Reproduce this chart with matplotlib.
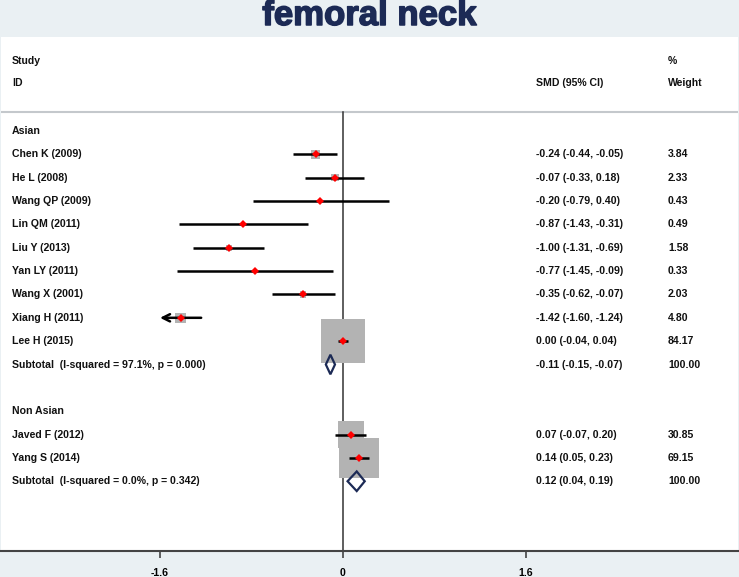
import matplotlib.pyplot as plt
from matplotlib.patches import Polygon
import matplotlib.patheffects as pe
import matplotlib.transforms as mtransforms
import numpy as np

plt.rcParams['font.family'] = ['Liberation Sans', 'DejaVu Sans']

# Asian subgroup
asian_ids = ["Chen K (2009)", "He L (2008)", "Wang QP (2009)", "Lin QM (2011)",
             "Liu Y (2013)", "Yan LY (2011)", "Wang X (2001)", "Xiang H (2011)",
             "Lee H (2015)"]
asian_smd = [-0.24, -0.07, -0.20, -0.87, -1.00, -0.77, -0.35, -1.42, 0.00]
asian_lo = [-0.44, -0.33, -0.79, -1.43, -1.31, -1.45, -0.62, -1.60, -0.04]
asian_hi = [-0.05, 0.18, 0.40, -0.31, -0.69, -0.09, -0.07, -1.24, 0.04]
asian_w = [3.84, 2.33, 0.43, 0.49, 1.58, 0.33, 2.03, 4.80, 84.17]
asian_sub = (-0.11, -0.15, -0.07)
asian_het = "Subtotal  (I-squared = 97.1%, p = 0.000)"

# Non Asian subgroup
nonasian_ids = ["Javed F (2012)", "Yang S (2014)"]
nonasian_smd = [0.07, 0.14]
nonasian_lo = [-0.07, 0.05]
nonasian_hi = [0.20, 0.23]
nonasian_w = [30.85, 69.15]
nonasian_sub = (0.12, 0.04, 0.19)
nonasian_het = "Subtotal  (I-squared = 0.0%, p = 0.342)"

xticks = [-1.6, 0, 1.6]
xtick_labels = ["-1.6", "0", "1.6"]
clip_lo = -1.6

bg = "#eaf0f3"
navy = "#1c2a55"
fs = 7.6

fig = plt.figure(figsize=(7.39, 5.77), dpi=100, facecolor=bg)
W, H = 739, 577
# white panel from y=37 to axis at y=551 (pixels)
ax = fig.add_axes([1 / W, (H - 551) / H, 737 / W, (551 - 37) / H])
ax.set_facecolor("white")

px_per_unit = 183 / 1.6
left_px, right_px, zero_px = 1, 738, 343
ax.set_xlim((left_px - zero_px) / px_per_unit, (right_px - zero_px) / px_per_unit)
row_px = 23.35
ax.set_ylim((551 - 131) / row_px, (37 - 131) / row_px)

trans = mtransforms.blended_transform_factory(ax.transAxes, ax.transData)
col_id, col_smd, col_w = 0.0149, 0.7259, 0.905
tb = dict(fontsize=fs, fontweight="bold", va="center", transform=trans, color="#111111")

# header
ax.text(col_id, -3.0, "Study", **tb)
ax.text(col_id, -2.06, "ID", **tb)
ax.text(col_smd, -2.06, "SMD (95% CI)", **tb)
ax.text(col_w, -3.0, "%", **tb)
ax.text(col_w, -2.06, "Weight", **tb)
ax.axhline(-0.81, color="#c4c8cc", lw=1.5, zorder=1)

ax.plot([0, 0], [-0.81, 18], color="#333333", lw=1.1, zorder=1, clip_on=False)

box_scale = (4.8 * 0.72) ** 2


def draw_group(start, name, ids, smd, lo, hi, w, sub, het):
    ax.text(col_id, start, name, **tb)
    rows = np.arange(len(ids)) + start + 1
    ax.scatter(smd, rows, s=np.array(w) * box_scale, marker="s",
               color="#b3b3b3", edgecolors="none", zorder=2)
    for r, name_i, e, l, h, wi in zip(rows, ids, smd, lo, hi, w):
        if l <= clip_lo:
            ax.annotate("", xy=(clip_lo, r), xytext=(h, r),
                        arrowprops=dict(arrowstyle="->", lw=1.8, color="black",
                                        mutation_scale=13, shrinkA=0, shrinkB=0),
                        zorder=3)
        else:
            ax.plot([l, h], [r, r], color="black", lw=1.8, zorder=3,
                    solid_capstyle="butt")
        ax.plot(e, r, marker="D", color="red", markersize=3.8, zorder=4,
                markeredgewidth=0)
        ax.text(col_id, r, name_i, **tb)
        ax.text(col_smd, r, "%.2f (%.2f, %.2f)" % (e, l, h), **tb)
        ax.text(col_w, r, "%.2f" % wi, **tb)
    sr = start + len(ids) + 1
    e, l, h = sub
    ax.add_patch(Polygon([(l, sr), (e, sr - 0.42), (h, sr), (e, sr + 0.42)],
                         closed=True, facecolor="none", edgecolor=navy,
                         lw=1.6, zorder=5))
    ax.text(col_id, sr, het, **tb)
    ax.text(col_smd, sr, "%.2f (%.2f, %.2f)" % sub, **tb)
    ax.text(col_w, sr, "%.2f" % 100, **tb)


draw_group(0, "Asian", asian_ids, asian_smd, asian_lo, asian_hi, asian_w,
           asian_sub, asian_het)
draw_group(12, "Non Asian", nonasian_ids, nonasian_smd, nonasian_lo,
           nonasian_hi, nonasian_w, nonasian_sub, nonasian_het)

for s in ["top", "left", "right"]:
    ax.spines[s].set_visible(False)
ax.spines["bottom"].set_color("#444444")
ax.spines["bottom"].set_linewidth(1.5)
ax.set_yticks([])
ax.set_xticks(xticks)
ax.set_xticklabels(xtick_labels, fontsize=fs, fontweight="bold")
ax.tick_params(axis="x", direction="out", length=5, width=1.2, color="#444444",
               pad=7)

fig.text(0.5, 1 - 25 / H, "femoral neck", ha="center", va="baseline",
         fontsize=25, fontweight="bold", color=navy,
         path_effects=[pe.withStroke(linewidth=1.1, foreground=navy)])

fig.savefig("out.png", dpi=100, facecolor=bg)
